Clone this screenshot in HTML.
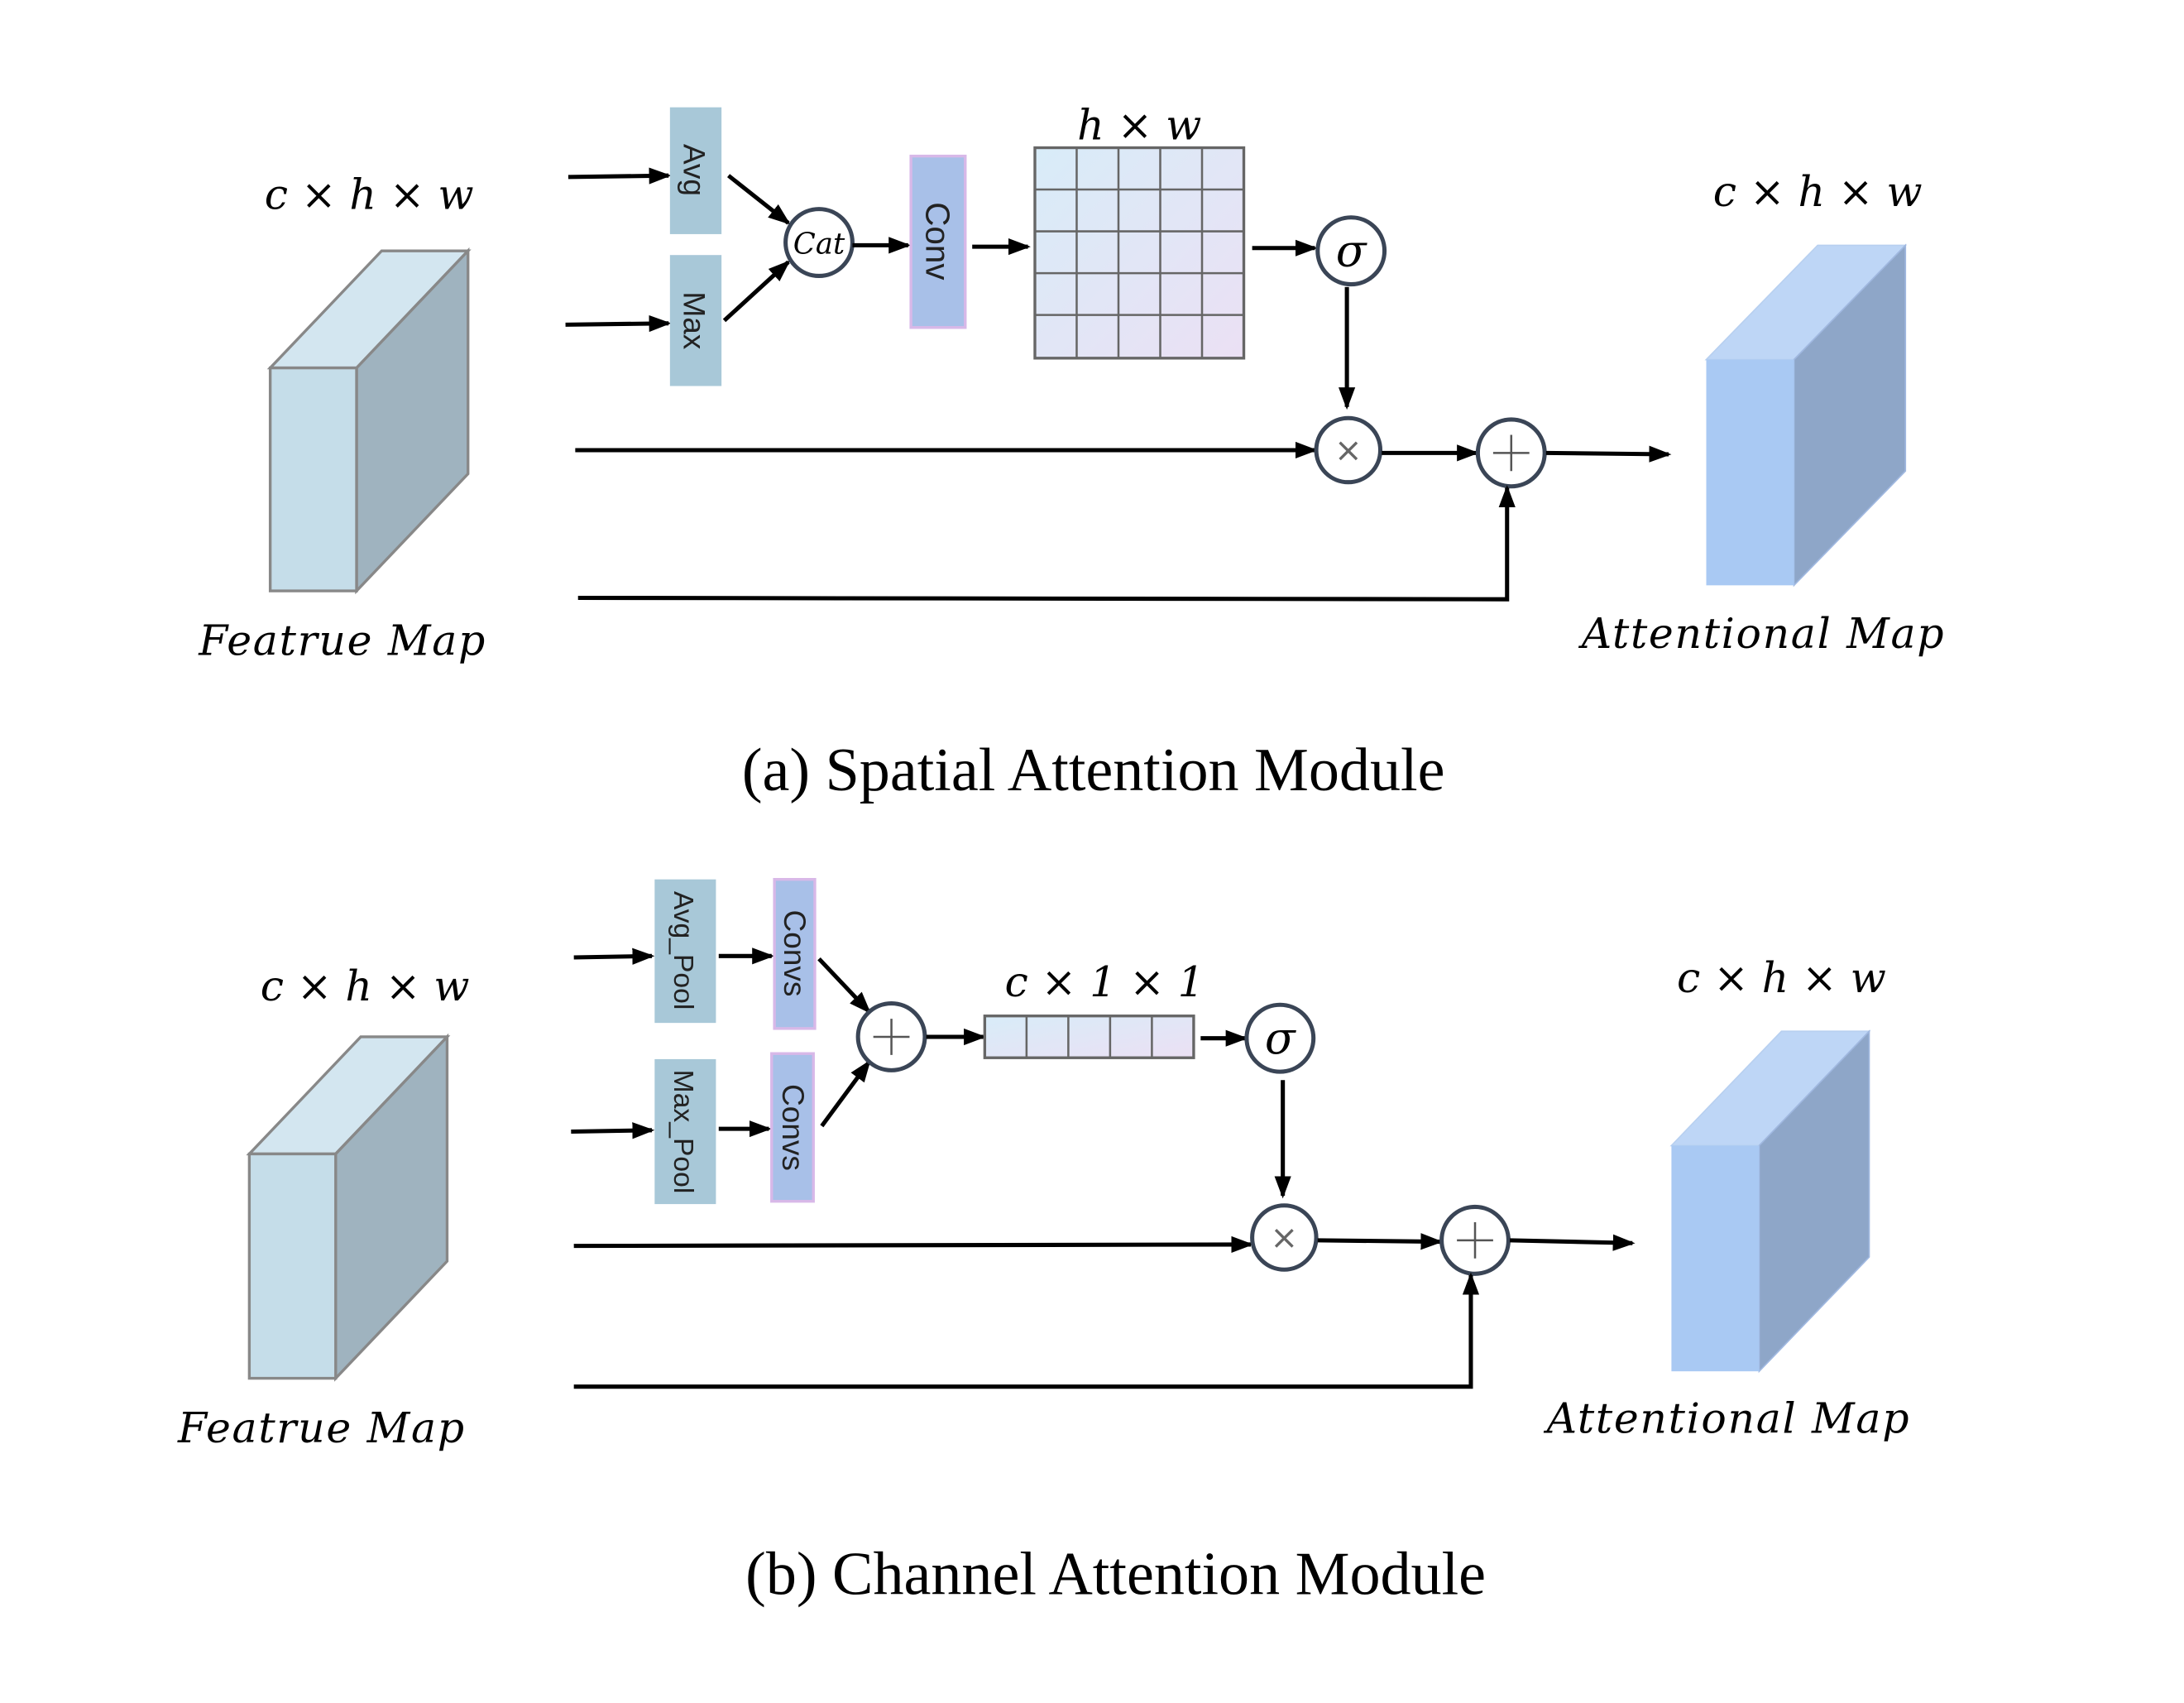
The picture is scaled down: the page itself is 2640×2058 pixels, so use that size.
<!DOCTYPE html>
<html><head><meta charset="utf-8"><style>
html,body{margin:0;padding:0;background:#fff;width:2640px;height:2058px;overflow:hidden}
svg{display:block}
.m{font-family:"DejaVu Serif","Liberation Serif",serif;font-style:italic;font-size:30px;fill:#000}
.lab{font-family:"DejaVu Serif","Liberation Serif",serif;font-style:italic;font-size:30px;fill:#000;letter-spacing:1px}
.cap{font-family:"Liberation Serif",serif;font-size:44px;fill:#000}
.bx{font-family:"Liberation Sans",sans-serif;font-size:22px;fill:#222}
.c{fill:#fff;stroke:#3a4556;stroke-width:3}
.ln{stroke:#000;stroke-width:3;fill:none}
</style></head><body>
<svg width="2640" height="2058" viewBox="0 0 1568 1222" preserveAspectRatio="none" xmlns="http://www.w3.org/2000/svg">
<defs>
<marker id="b" markerWidth="16" markerHeight="16" refX="14" refY="8" orient="auto" markerUnits="userSpaceOnUse"><path d="M0,2 L16,8 L0,14 z" fill="#000"/></marker>
<linearGradient id="g" x1="0" y1="0" x2="1" y2="1"><stop offset="0" stop-color="#d8ecf8"/><stop offset="1" stop-color="#ebe0f4"/></linearGradient>
</defs>

<!-- TOP -->
<polygon points="194,264 256,264 336,180 274,180" fill="#d3e6f0" stroke="#888" stroke-width="2"/>
<polygon points="256,264 336,180 336,340 256,424" fill="#9fb3bf" stroke="#888" stroke-width="2"/>
<rect x="194" y="264" width="62" height="160" fill="#c5dde9" stroke="#888" stroke-width="2"/>
<text class="m" x="265" y="150" text-anchor="middle">c × h  × w</text>
<text class="lab" x="246" y="470" text-anchor="middle">Featrue Map</text>

<line class="ln" x1="408" y1="127" x2="480" y2="126" marker-end="url(#b)"/>
<line class="ln" x1="406" y1="233" x2="480" y2="232" marker-end="url(#b)"/>
<rect x="481" y="77" width="37" height="91" fill="#a8c8d8"/>
<rect x="481" y="183" width="37" height="94" fill="#a8c8d8"/>
<text class="bx" transform="translate(491,122) rotate(90)" text-anchor="middle">Avg</text>
<text class="bx" transform="translate(491,230) rotate(90)" text-anchor="middle">Max</text>
<line class="ln" x1="523" y1="126" x2="566" y2="160" marker-end="url(#b)"/>
<line class="ln" x1="520" y1="230" x2="566" y2="188" marker-end="url(#b)"/>
<circle class="c" cx="588" cy="174" r="24"/>
<text x="588" y="182" text-anchor="middle" style="font-family:'DejaVu Serif',serif;font-style:italic;font-size:21px">Cat</text>
<line class="ln" x1="612" y1="176" x2="652" y2="176" marker-end="url(#b)"/>
<rect x="654" y="112" width="39" height="123" fill="#a8c0e8" stroke="#d8b8e8" stroke-width="2"/>
<text class="bx" transform="translate(665,173) rotate(90)" text-anchor="middle" style="font-size:24px">Conv</text>
<line class="ln" x1="698" y1="177" x2="738" y2="177" marker-end="url(#b)"/>
<rect x="743" y="106" width="150" height="151" fill="url(#g)" stroke="#666" stroke-width="2"/>
<g stroke="#666" stroke-width="1.5">
<line x1="773" y1="106" x2="773" y2="257"/><line x1="803" y1="106" x2="803" y2="257"/><line x1="833" y1="106" x2="833" y2="257"/><line x1="863" y1="106" x2="863" y2="257"/>
<line x1="743" y1="136" x2="893" y2="136"/><line x1="743" y1="166" x2="893" y2="166"/><line x1="743" y1="196" x2="893" y2="196"/><line x1="743" y1="226" x2="893" y2="226"/>
</g>
<text class="m" x="818" y="100" text-anchor="middle">h  × w</text>
<line class="ln" x1="899" y1="178" x2="944" y2="178" marker-end="url(#b)"/>
<circle class="c" cx="970" cy="180" r="24"/>
<text x="970" y="191" text-anchor="middle" style="font-family:'DejaVu Serif',serif;font-style:italic;font-size:32px">σ</text>
<line class="ln" x1="967" y1="206" x2="967" y2="292" marker-end="url(#b)"/>
<line class="ln" x1="413" y1="323" x2="944" y2="323" marker-end="url(#b)"/>
<circle class="c" cx="968" cy="323" r="23"/>
<text x="968" y="331" text-anchor="middle" style="font-family:'DejaVu Sans',sans-serif;font-size:24px;fill:#666">×</text>
<line class="ln" x1="992" y1="325" x2="1060" y2="325" marker-end="url(#b)"/>
<circle class="c" cx="1085" cy="325" r="24"/>
<path d="M1072,325 H1098 M1085,312 V338" stroke="#555" stroke-width="1.5"/>
<line class="ln" x1="1110" y1="325" x2="1198" y2="326" marker-end="url(#b)"/>
<polyline class="ln" points="415,429 1082,430 1082,350" marker-end="url(#b)"/>
<polygon points="1225,258 1288,258 1368,176 1305,176" fill="#bed6f6" stroke="#b8d0f0"/>
<polygon points="1288,258 1368,176 1368,338 1288,420" fill="#8ea6c8" stroke="#a0b8e0"/>
<rect x="1225" y="258" width="63" height="162" fill="#a9c9f3"/>
<text class="m" x="1305" y="148" text-anchor="middle">c × h  × w</text>
<text class="lab" x="1266" y="465" text-anchor="middle">Attentional Map</text>
<text class="cap" x="785" y="567" text-anchor="middle">(a) Spatial Attention Module</text>

<!-- BOTTOM -->
<polygon points="179,828 241,828 321,744 259,744" fill="#d3e6f0" stroke="#888" stroke-width="2"/>
<polygon points="241,828 321,744 321,905 241,989" fill="#9fb3bf" stroke="#888" stroke-width="2"/>
<rect x="179" y="828" width="62" height="161" fill="#c5dde9" stroke="#888" stroke-width="2"/>
<text class="m" x="262" y="718" text-anchor="middle">c × h  × w</text>
<text class="lab" x="231" y="1035" text-anchor="middle">Featrue Map</text>

<line class="ln" x1="412" y1="687" x2="468" y2="686" marker-end="url(#b)"/>
<line class="ln" x1="410" y1="812" x2="468" y2="811" marker-end="url(#b)"/>
<rect x="470" y="631" width="44" height="103" fill="#a8c8d8"/>
<rect x="470" y="760" width="44" height="104" fill="#a8c8d8"/>
<text class="bx" transform="translate(484,682) rotate(90)" text-anchor="middle" style="font-size:20px">Avg_Pool</text>
<text class="bx" transform="translate(484,812) rotate(90)" text-anchor="middle" style="font-size:20px">Max_Pool</text>
<line class="ln" x1="516" y1="686" x2="554" y2="686" marker-end="url(#b)"/>
<line class="ln" x1="516" y1="810" x2="552" y2="810" marker-end="url(#b)"/>
<rect x="556" y="631" width="29" height="107" fill="#a8c0e8" stroke="#d8b8e8" stroke-width="2"/>
<rect x="554" y="756" width="30" height="106" fill="#a8c0e8" stroke="#d8b8e8" stroke-width="2"/>
<text class="bx" transform="translate(563,684) rotate(90)" text-anchor="middle">Convs</text>
<text class="bx" transform="translate(562,809) rotate(90)" text-anchor="middle">Convs</text>
<line class="ln" x1="588" y1="688" x2="624" y2="726" marker-end="url(#b)"/>
<line class="ln" x1="590" y1="808" x2="624" y2="762" marker-end="url(#b)"/>
<circle class="c" cx="640" cy="744" r="24"/>
<path d="M627,744 H653 M640,731 V757" stroke="#555" stroke-width="1.5"/>
<line class="ln" x1="665" y1="744" x2="706" y2="744" marker-end="url(#b)"/>
<rect x="707" y="729" width="150" height="30" fill="url(#g)" stroke="#666" stroke-width="2"/>
<g stroke="#666" stroke-width="1.5"><line x1="737" y1="729" x2="737" y2="759"/><line x1="767" y1="729" x2="767" y2="759"/><line x1="797" y1="729" x2="797" y2="759"/><line x1="827" y1="729" x2="827" y2="759"/></g>
<text class="m" x="793" y="715" text-anchor="middle">c × 1 × 1</text>
<line class="ln" x1="862" y1="745" x2="894" y2="745" marker-end="url(#b)"/>
<circle class="c" cx="919" cy="745" r="24"/>
<text x="919" y="756" text-anchor="middle" style="font-family:'DejaVu Serif',serif;font-style:italic;font-size:32px">σ</text>
<line class="ln" x1="921" y1="775" x2="921" y2="858" marker-end="url(#b)"/>
<line class="ln" x1="412" y1="894" x2="898" y2="893" marker-end="url(#b)"/>
<circle class="c" cx="922" cy="888" r="23"/>
<text x="922" y="896" text-anchor="middle" style="font-family:'DejaVu Sans',sans-serif;font-size:24px;fill:#666">×</text>
<line class="ln" x1="946" y1="890" x2="1034" y2="891" marker-end="url(#b)"/>
<circle class="c" cx="1059" cy="890" r="24"/>
<path d="M1046,890 H1072 M1059,877 V903" stroke="#555" stroke-width="1.5"/>
<line class="ln" x1="1084" y1="890" x2="1172" y2="892" marker-end="url(#b)"/>
<polyline class="ln" points="412,995 1056,995 1056,915" marker-end="url(#b)"/>
<polygon points="1200,822 1263,822 1342,740 1279,740" fill="#bed6f6" stroke="#b8d0f0"/>
<polygon points="1263,822 1342,740 1342,902 1263,984" fill="#8ea6c8" stroke="#a0b8e0"/>
<rect x="1200" y="822" width="63" height="162" fill="#a9c9f3"/>
<text class="m" x="1279" y="712" text-anchor="middle">c × h  × w</text>
<text class="lab" x="1241" y="1028" text-anchor="middle">Attentional Map</text>
<text class="cap" x="801" y="1144" text-anchor="middle">(b) Channel Attention Module</text>
</svg>
</body></html>
